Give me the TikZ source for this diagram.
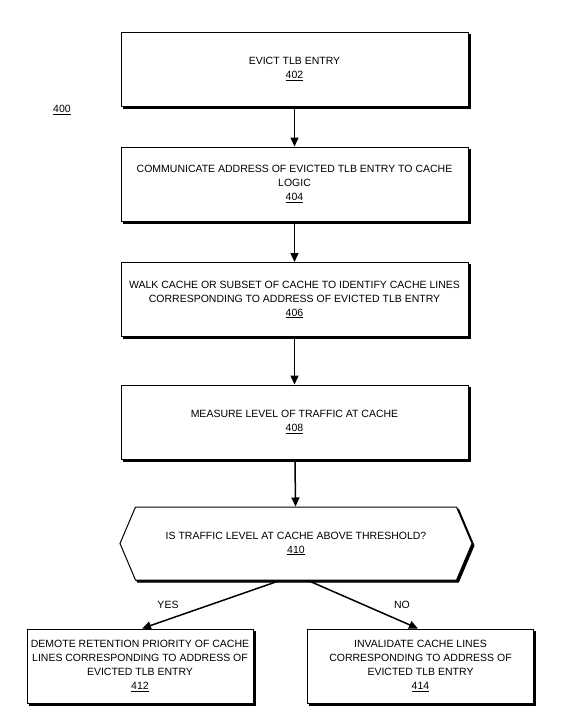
\documentclass[tikz,border=0pt]{standalone}
\usepackage{fontspec}
\setmainfont{Liberation Sans}
\usetikzlibrary{arrows.meta,shapes.symbols}

\begin{document}
\begin{tikzpicture}[x=1pt, y=-1pt,
  font=\fontsize{10.5}{14}\selectfont,
  boxshadow/.style={preaction={draw, fill=black, line width=1pt, transform canvas={xshift=2pt, yshift=-2pt}}},
  stepbox/.style={draw, line width=1pt, fill=white, align=center, minimum width=347pt, minimum height=74pt, boxshadow},
  endbox/.style={stepbox, minimum width=226pt},
  decision/.style={draw, line width=1pt, fill=white, align=center, shape=signal, signal to=west and east, signal pointer angle=134, minimum width=352pt, minimum height=73pt, boxshadow},
  flow/.style={-{Triangle[length=9pt,width=8pt]}, line width=1.5pt}]
  \useasboundingbox (0,0) rectangle (578,723);

  \node (lbl400) at (62,110) {\underline{400}};

  \node[stepbox] (s402) at (294.5,69) {EVICT TLB ENTRY\\\underline{402}};
  \node[stepbox] (s404) at (294.5,184) {COMMUNICATE ADDRESS OF EVICTED TLB ENTRY TO CACHE\\LOGIC\\\underline{404}};
  \node[stepbox] (s406) at (294.5,299.5) {WALK CACHE OR SUBSET OF CACHE TO IDENTIFY CACHE LINES\\CORRESPONDING TO ADDRESS OF EVICTED TLB ENTRY\\\underline{406}};
  \node[stepbox] (s408) at (294.5,422) {MEASURE LEVEL OF TRAFFIC AT CACHE\\\underline{408}};
  \node[decision] (d410) at (296,543.5) {IS TRAFFIC LEVEL AT CACHE ABOVE THRESHOLD?\\\underline{410}};
  \node[endbox] (s412) at (140,666) {DEMOTE RETENTION PRIORITY OF CACHE\\LINES CORRESPONDING TO ADDRESS OF\\EVICTED TLB ENTRY\\\underline{412}};
  \node[endbox] (s414) at (420.5,666) {INVALIDATE CACHE LINES\\CORRESPONDING TO ADDRESS OF\\EVICTED TLB ENTRY\\\underline{414}};

  \draw[flow] (s402) -- (s404);
  \draw[flow] (s404) -- (s406);
  \draw[flow] (s406) -- (s408);
  \draw[flow] (s408) -- (d410);
  \draw[flow] ([xshift=-16pt]d410.south) -- ([xshift=2pt]s412.north);
  \draw[flow] ([xshift=12pt]d410.south) -- ([xshift=-2.5pt]s414.north);

  \node (yes) at (168,605) {YES};
  \node (no) at (402,605) {NO};
\end{tikzpicture}
\end{document}
